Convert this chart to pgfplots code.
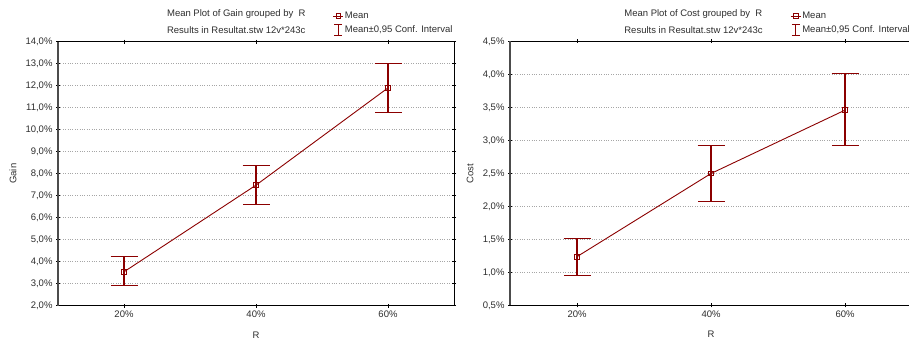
\documentclass[border=0pt]{standalone}
\usepackage{pgfplots}
\pgfplotsset{compat=1.18}
\usepackage{fontspec}
\setmainfont{Liberation Sans}
\definecolor{dred}{RGB}{139,0,0}
\definecolor{txt}{RGB}{45,45,45}
\pgfplotsset{
  statstyle/.style={
    scale only axis, height=264pt, clip=false,
    xmin=-0.5, xmax=2.5, xtick={0,1,2}, xticklabels={20\%,40\%,60\%},
    xlabel={R},
    tick align=center, major tick length=4pt,
    ymajorgrids, grid style={dotted, gray!70, line width=0.6pt},
    axis line style={black, line width=0.8pt},
    tick style={black, line width=0.6pt},
    /pgf/number format/assume math mode=true,
    yticklabel={\pgfmathprintnumber[fixed,fixed zerofill,precision=1,use comma]{\tick}\%},
    tick label style={text=txt, font=\fontsize{9.5}{11}\selectfont},
    label style={text=txt, font=\fontsize{9.5}{11}\selectfont},
    xlabel style={at={(axis description cs:0.5,-0.11)}, anchor=center},
    legend cell align=left,
    legend style={draw=none, fill=none, inner sep=0pt, row sep=3pt, anchor=north west,
      font=\fontsize{9.5}{11}\selectfont, text=txt,
      nodes={inner sep=1pt}},
  },
  meanplot/.style={dred, line width=0.9pt, mark=square, mark size=2.4pt,
    mark options={solid, line width=0.8pt, fill=white},
    legend image code/.code={\draw[mark repeat=2,mark phase=2] plot coordinates {(0pt,0pt) (5pt,0pt) (10pt,0pt)};},
    error bars/.cd, y dir=both, y explicit,
    error bar style={line width=1.1pt, dred},
    error mark options={rotate=90, dred, mark size=13.5pt, line width=1.1pt}},
  ciimage/.style={legend image code/.code={\draw[dred, line width=0.8pt] (5pt,-5.5pt)--(5pt,5.5pt) (1pt,5.5pt)--(9pt,5.5pt) (1pt,-5.5pt)--(9pt,-5.5pt);}},
}
\pgfplotstableread{
x y ep em
0 3.54 0.68 0.64
1 7.48 0.90 0.88
2 11.90 1.12 1.12
}\gain
\pgfplotstableread{
x y ep em
0 1.24 0.28 0.29
1 2.50 0.42 0.42
2 3.46 0.56 0.54
}\cost
\begin{document}
\begin{tikzpicture}[x=1pt,y=1pt]
\begin{axis}[statstyle, at={(58pt,33.3pt)}, anchor=south west, width=396pt,
  ymin=2, ymax=14, ytick={2,3,...,14}, ylabel={Gain},
  ylabel style={at={(axis description cs:-0.1136,0.5)}, anchor=center},
  legend style={at={(axis description cs:0.694,1.116)}}]
\addplot[meanplot] table[x=x, y=y, y error plus=ep, y error minus=em] {\gain};
\addlegendentry{Mean}
\addlegendimage{ciimage}
\addlegendentry{Mean±0,95 Conf. Interval}
\draw[line width=2pt, black!70] (rel axis cs:0,0) -- (rel axis cs:0,1);
\node[anchor=west, text=txt, font=\fontsize{9.5}{11}\selectfont, inner sep=0pt] at (axis description cs:0.275,1.105) {Mean Plot of Gain grouped by\ \ R};
\node[anchor=west, text=txt, font=\fontsize{9.5}{11}\selectfont, inner sep=0pt] at (axis description cs:0.275,1.044) {Results in Resultat.stw 12v*243c};
\end{axis}
\begin{axis}[statstyle, at={(510pt,33.5pt)}, anchor=south west, width=402pt,
  ymin=0.5, ymax=4.5, ytick={0.5,1,...,4.5}, ylabel={Cost},
  ylabel style={at={(axis description cs:-0.0995,0.5)}, anchor=center},
  legend style={at={(axis description cs:0.697,1.116)}}]
\addplot[meanplot] table[x=x, y=y, y error plus=ep, y error minus=em] {\cost};
\addlegendentry{Mean}
\addlegendimage{ciimage}
\addlegendentry{Mean±0,95 Conf. Interval}
\draw[line width=2pt, black!70] (rel axis cs:0,0) -- (rel axis cs:0,1);
\node[anchor=west, text=txt, font=\fontsize{9.5}{11}\selectfont, inner sep=0pt] at (axis description cs:0.284,1.105) {Mean Plot of Cost grouped by\ \ R};
\node[anchor=west, text=txt, font=\fontsize{9.5}{11}\selectfont, inner sep=0pt] at (axis description cs:0.284,1.044) {Results in Resultat.stw 12v*243c};
\end{axis}
\pgfresetboundingbox
\useasboundingbox (0,0) rectangle (909,339);
\end{tikzpicture}
\end{document}
